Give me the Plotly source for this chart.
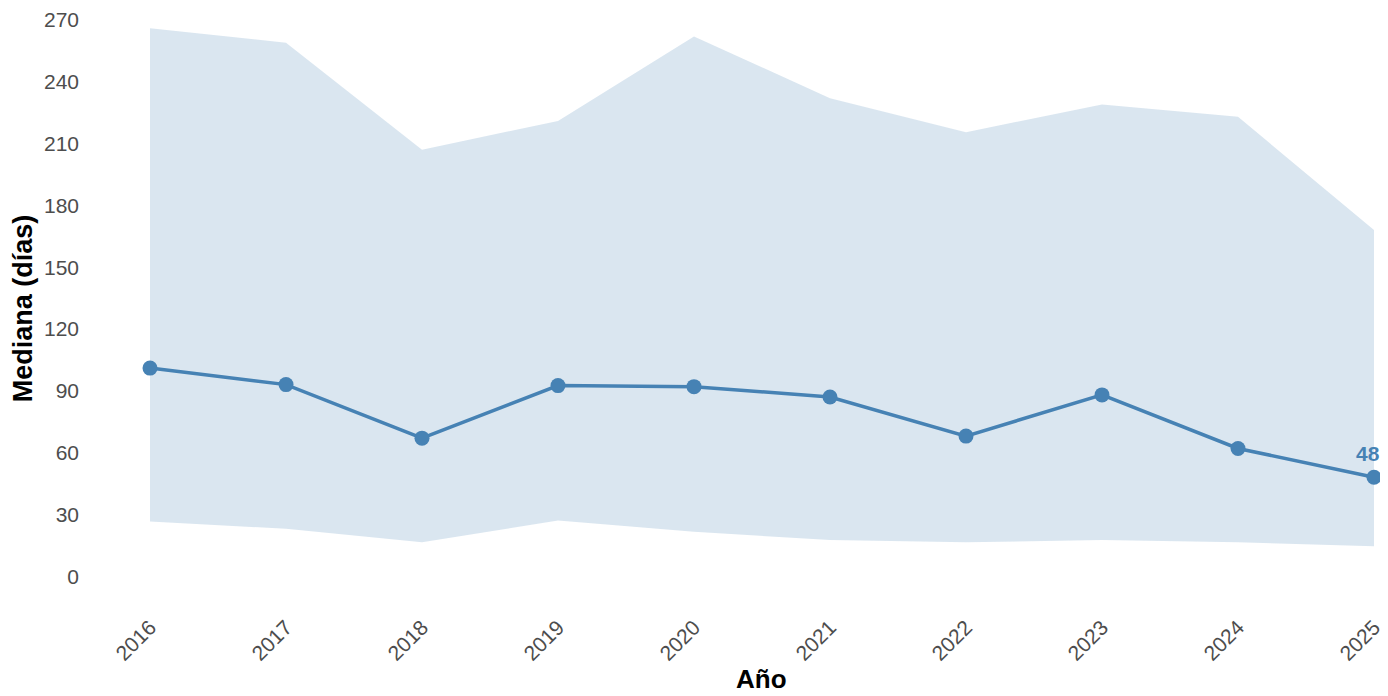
import plotly.graph_objects as go

years = [2016, 2017, 2018, 2019, 2020, 2021, 2022, 2023, 2024, 2025]
median = [101, 93, 67, 92.5, 92, 87, 68, 88, 62, 48]
upper = [266, 259, 207, 221, 262, 232, 215.5, 229, 223, 168]
lower = [26.5, 23, 16.5, 27, 21.5, 17.5, 16.5, 17.5, 16.5, 14.5]
y_ticks = [0, 30, 60, 90, 120, 150, 180, 210, 240, 270]

color = "#4682B4"
band = "rgba(70,130,180,0.2)"

fig = go.Figure()
fig.add_trace(go.Scatter(x=years, y=lower, mode="lines", line=dict(width=0),
                         showlegend=False, hoverinfo="skip"))
fig.add_trace(go.Scatter(x=years, y=upper, mode="lines", line=dict(width=0),
                         fill="tonexty", fillcolor=band, showlegend=False, hoverinfo="skip"))
fig.add_trace(go.Scatter(x=years, y=median, mode="lines+markers",
                         line=dict(color=color, width=3.5),
                         marker=dict(color=color, size=15), showlegend=False))

# page offset of 8px (body margin)
OFF = 8
W, H = 1380, 688
l, r, t, b = 80, 0, 5, 96
px_per_year = 136.0
x0 = 2016 - (150 - (OFF + l)) / px_per_year
x1 = 2025 + ((OFF + W - r) - 1374) / px_per_year
ppu = 560 / 270
y_top = (576 - (OFF + t)) / ppu
y_bot = -((OFF + H - b) - 576) / ppu

fig.add_annotation(x=years[-1], y=median[-1], text="<b>%s</b>" % median[-1],
                   showarrow=False, yanchor="bottom", yshift=10, xshift=-6,
                   font=dict(color=color, size=21, family="Liberation Sans"))

plot_w = W - l - r
plot_h = H - t - b
fig.add_annotation(xref="paper", yref="paper",
                   x=((761 - OFF) - l) / plot_w, y=-((680 - OFF) - (H - b)) / plot_h,
                   xanchor="center", yanchor="middle", showarrow=False,
                   text="<b>Año</b>", font=dict(size=26, color="black", family="Liberation Sans"))

fig.update_layout(
    width=W, height=H,
    margin=dict(l=l, r=r, t=t, b=b),
    plot_bgcolor="white", paper_bgcolor="white",
    font=dict(family="Liberation Sans", size=21, color="#4d4d4d"),
    xaxis=dict(range=[x0, x1], tickvals=years, ticktext=[str(y) for y in years],
               tickangle=-45, showgrid=False, zeroline=False, showline=False,
               ticks="", tickfont=dict(size=21, color="#4d4d4d"), ticklabelstandoff=10,
               ticklabeloverflow="allow"),
    yaxis=dict(range=[y_bot, y_top], tickvals=y_ticks, showgrid=False, zeroline=False,
               showline=False, ticks="", tickfont=dict(size=21, color="#4d4d4d"),
               ticklabelstandoff=8, ticklabeloverflow="allow",
               title=dict(text="<b>Mediana (días)</b>", font=dict(size=27, color="black"), standoff=6)),
)

fig.write_html("out.html")
